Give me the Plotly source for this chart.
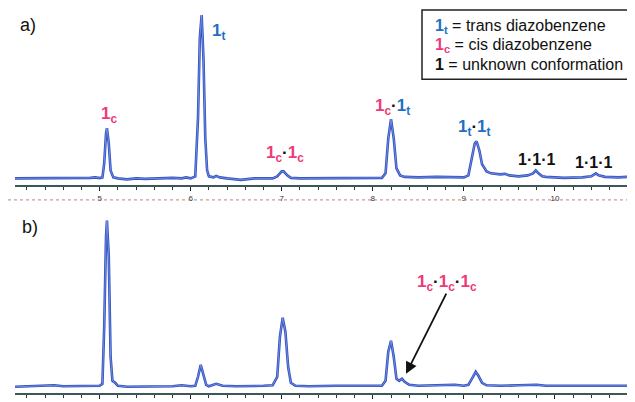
import plotly.graph_objects as go

# Retention time (min) and detector response (arbitrary units)
time_a = [4.07, 4.5, 4.9, 4.95, 5.0, 5.03, 5.05, 5.07, 5.08, 5.10, 5.12, 5.15, 5.2, 5.3, 5.4, 5.5,
          5.7, 5.8, 5.9, 5.95, 6.0, 6.05, 6.08, 6.10, 6.12, 6.14, 6.16, 6.18, 6.2, 6.25, 6.28, 6.32,
          6.4, 6.55, 6.6, 6.7, 6.9, 6.95, 7.0, 7.02, 7.06, 7.1, 7.2, 7.5, 7.9, 8.1, 8.14, 8.17, 8.2,
          8.23, 8.26, 8.3, 8.35, 8.5, 8.7, 8.9, 9.0, 9.05, 9.09, 9.12, 9.14, 9.17, 9.2, 9.25, 9.3,
          9.4, 9.45, 9.5, 9.6, 9.7, 9.76, 9.79, 9.82, 9.86, 9.9, 10.0, 10.1, 10.3, 10.4, 10.45,
          10.48, 10.55, 10.7, 10.8, 10.88]
signal_a = [0, 0, 0.5, 1, 0.3, 1, 15, 45, 50, 35, 8, 1, 0, -1, 0, -0.5,
            0, 0.5, 0, 1, 0, 2, 60, 140, 163, 120, 40, 8, 2, 1, 2.5, 1,
            0, -1.5, -1, 0, 0, 2, 7, 7, 3, 0.5, 0, 0, 0.3, 0.5, 5, 40, 59,
            40, 10, 3, 1.5, 1, 1.5, 1, 1, 3, 20, 35, 37, 28, 14, 7, 5,
            4, 4.5, 3, 2, 3, 5, 8, 5, 2, 1.5, 1, 0.5, 1, 2, 5,
            3, 1.5, 1, 1.5, 1]

time_b = [4.07, 4.3, 4.5, 4.6, 4.9, 5.0, 5.03, 5.05, 5.07, 5.08, 5.10, 5.12, 5.14, 5.17, 5.2, 5.3,
          5.8, 5.9, 6.0, 6.05, 6.08, 6.11, 6.14, 6.17, 6.2, 6.28, 6.35, 6.5, 6.8, 6.9, 6.95, 6.98,
          7.01, 7.04, 7.07, 7.1, 7.15, 7.3, 7.6, 7.8, 8.0, 8.1, 8.14, 8.17, 8.2, 8.23, 8.26, 8.29,
          8.32, 8.35, 8.4, 8.5, 8.7, 8.9, 9.0, 9.05, 9.1, 9.13, 9.16, 9.2, 9.25, 9.4, 9.6, 9.8,
          9.9, 10.2, 10.45, 10.6, 10.88]
signal_b = [0, 0.5, 1.5, 0.5, 0.5, 1, 3, 60, 150, 166, 130, 30, 6, 4, 1, 0,
            0.5, 1.5, 0.5, 1, 10, 22, 12, 2, 0.5, 3, 1, 0.5, 1, 1.5, 10, 50,
            69, 55, 20, 4, 1, 0.5, 1, 1, 1, 1, 6, 35, 46, 30, 8, 6,
            8, 5, 2, 1, 1.5, 2, 1, 2, 10, 15, 11, 4, 1.5, 1, 1.5, 2,
            1, 1, 1.5, 1, 1]

tick_vals = [5, 6, 7, 8, 9, 10]
tick_text = ["5", "6", "7", "8", "9", "10"]

PINK = "#ee3a78"
BLUE = "#1f6fc4"
LINE = "#2f50c2"
LINE_CORE = "#8ea4ea"

W, H = 635, 402
OFF = 8            # page body margin
SY = 402 / 410     # vertical squeeze observed in the capture


def px(x):
    return (x - OFF) / W


def py(y):
    return 1 - ((y - OFF) / SY) / H


def c(s):
    return f'<span style="color:{PINK}">{s}</span>'


def t(s):
    return f'<span style="color:{BLUE}">{s}</span>'


one_c = c("1<sub>c</sub>")
one_t = t("1<sub>t</sub>")
dot = '<span style="color:#111">·</span>'

fig = go.Figure()
for xs, ys, xa, ya in [(time_a, signal_a, "x", "y"), (time_b, signal_b, "x2", "y2")]:
    fig.add_trace(go.Scatter(x=xs, y=ys, mode="lines", xaxis=xa, yaxis=ya,
                             line=dict(color=LINE, width=2.6), showlegend=False))
    fig.add_trace(go.Scatter(x=xs, y=ys, mode="lines", xaxis=xa, yaxis=ya,
                             line=dict(color=LINE_CORE, width=0.7), showlegend=False))

xrange = [4.07, 10.88]
xcommon = dict(range=xrange, showline=True, linecolor="#3d5858", linewidth=1.5,
               ticks="outside", ticklen=4, tickwidth=1.2, tickcolor="#222",
               tickvals=tick_vals, ticktext=tick_text, showgrid=False, zeroline=False,
               tickfont=dict(size=8, color="#333", family="Liberation Sans"),
               minor=dict(dtick=0.2, tick0=5, ticks="outside", ticklen=3, tickwidth=1,
                          tickcolor="#333", showgrid=False))
ycommon = dict(visible=False, showgrid=False, zeroline=False)

fig.update_layout(
    width=W, height=H,
    margin=dict(l=0, r=0, t=0, b=0),
    paper_bgcolor="white", plot_bgcolor="white",
    xaxis=dict(domain=[px(15), px(635)], anchor="y", **xcommon),
    yaxis=dict(domain=[py(185), py(8)], range=[-7, 170], anchor="x", **ycommon),
    xaxis2=dict(domain=[px(15), px(635)], anchor="y2", **xcommon),
    yaxis2=dict(domain=[py(392), py(206)], range=[-6, 180], anchor="x2", **ycommon),
)

lab_font = dict(family="Liberation Sans", size=17, color="#111")
ann = []


def add(text, x, y, xref="x", yref="y", size=17, xanchor="center", bold=True):
    f = dict(lab_font)
    f["size"] = size
    ann.append(dict(text=f"<b>{text}</b>" if bold else text, x=x, y=y, xref=xref, yref=yref,
                    showarrow=False, font=f, xanchor=xanchor, yanchor="middle"))


add(one_c, 5.10, 63)
add(one_t, 6.30, 146)
add(one_c + dot + one_c, 7.04, 24)
add(one_c + dot + one_t, 8.22, 71)
add(one_t + dot + one_t, 9.12, 50)
add("1·1·1", 9.80, 19, size=16)
add("1·1·1", 10.42, 16, size=16)
add(one_c + dot + one_c + dot + one_c, 8.815, 104, xref="x2", yref="y2")

# arrow pointing to the 1c·1c·1c peak
ann.append(dict(x=8.365, y=13, xref="x2", yref="y2", showarrow=True, text="",
                ax=447 - 406, ay=(293 - 373) / SY, axref="pixel", ayref="pixel",
                arrowhead=2, arrowsize=1.3, arrowwidth=1.8, arrowcolor="#111"))

# panel letters
add("a)", px(28), py(25), xref="paper", yref="paper", size=18, bold=False)
add("b)", px(30), py(227), xref="paper", yref="paper", size=18, bold=False)

# legend box text
add("<b>" + one_t + "</b> = trans diazobenzene", px(433), py(26), xref="paper", yref="paper",
    size=16, xanchor="left", bold=False)
add("<b>" + one_c + "</b> = cis diazobenzene", px(433), py(45), xref="paper", yref="paper",
    size=16, xanchor="left", bold=False)
add("<b>1</b> = unknown conformation", px(433), py(64), xref="paper", yref="paper",
    size=16, xanchor="left", bold=False)

fig.update_layout(annotations=ann)

fig.add_shape(type="rect", xref="paper", yref="paper", x0=px(422), x1=px(634), y0=py(79), y1=py(10),
              line=dict(color="#222", width=1.5), fillcolor="rgba(0,0,0,0)")
fig.add_shape(type="line", xref="paper", yref="paper", x0=0, x1=1, y0=py(199.5), y1=py(199.5),
              line=dict(color="#b08a80", width=1, dash="dot"))

fig.write_html("out.html")
